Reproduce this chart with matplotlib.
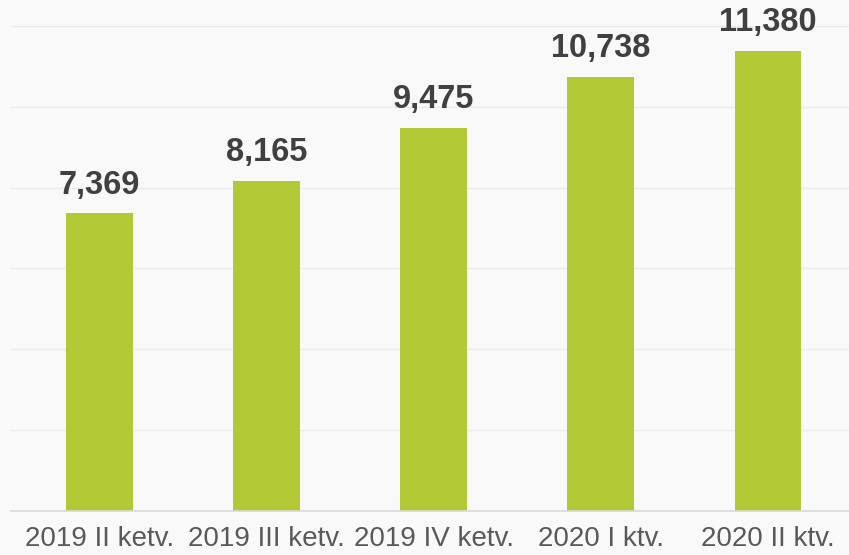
import matplotlib.pyplot as plt
import numpy as np

plt.rcParams["font.family"] = ["Liberation Sans", "DejaVu Sans"]

# Data
quarters = ["2019 II ketv.", "2019 III ketv.", "2019 IV ketv.", "2020 I ktv.", "2020 II ktv."]
values = [7369, 8165, 9475, 10738, 11380]

bar_color = "#b2c935"
text_color = "#404040"
tick_color = "#595959"

fig = plt.figure(figsize=(8.49, 5.55), dpi=100, facecolor="#f9f9f9")
ax = fig.add_axes([0.013, 0.0793, 0.99, 0.874])
ax.set_facecolor("none")

x = np.arange(len(quarters))
ax.bar(x, values, width=0.4, color=bar_color, zorder=2)

# Value labels
for xi, v in zip(x, values):
    ax.annotate(f"{v:,}", (xi, v), xytext=(0, 9), textcoords="offset points",
                ha="center", va="bottom", fontsize=23.5, fontweight="bold",
                color=text_color, zorder=3)

# Format
ax.set_xlim(-0.53, 4.5)
ax.set_ylim(0, 12000)
ax.set_yticks(np.arange(0, 12001, 2000))
ax.yaxis.grid(True, color="#ebebeb", linewidth=1, zorder=0)
ax.set_yticklabels([])
ax.tick_params(axis="y", length=0)
ax.set_xticks(x)
ax.set_xticklabels(quarters, fontsize=20, color=tick_color)
ax.tick_params(axis="x", length=0, pad=11)
for side in ["top", "right", "left"]:
    ax.spines[side].set_visible(False)
ax.spines["bottom"].set_color("#d9d9d9")
ax.spines["bottom"].set_linewidth(1.2)

fig.savefig("out.png", dpi=100, facecolor=fig.get_facecolor())
